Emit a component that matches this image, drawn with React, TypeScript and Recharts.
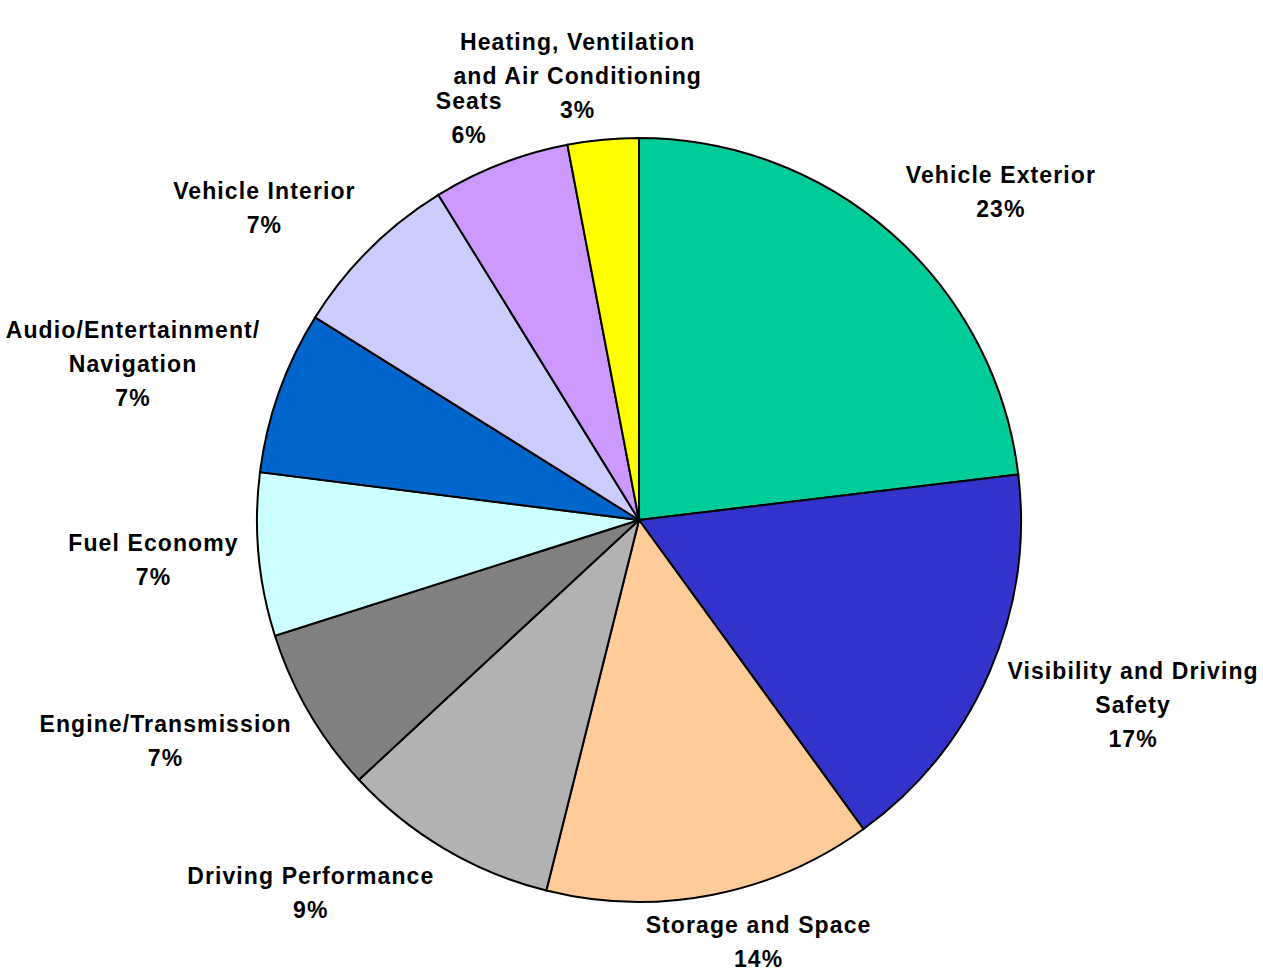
import React from 'react';
import { PieChart, Pie, Cell } from 'recharts';

const categories = [
  'Vehicle Exterior',
  'Visibility and Driving\nSafety',
  'Storage and Space',
  'Driving Performance',
  'Engine/Transmission',
  'Fuel Economy',
  'Audio/Entertainment/\nNavigation',
  'Vehicle Interior',
  'Seats',
  'Heating, Ventilation\nand Air Conditioning'
];

const shares = [23.1, 16.9, 13.9, 9.2, 7.0, 6.9, 6.9, 7.3, 5.8, 3.0];

const colors = [
  '#00CC99',
  '#3333CC',
  '#FFCC99',
  '#B2B2B2',
  '#808080',
  '#CCFFFF',
  '#0066CC',
  '#CCCCFF',
  '#CC99FF',
  '#FFFF00'
];

const data = categories.map((name, i) => ({ name, value: shares[i], color: colors[i] }));

const FONT_SIZE = 23;
const SPACING = 1.1;
const LINE_H = 34;
const FONT = `bold ${FONT_SIZE}px "Liberation Sans", Arial, sans-serif`;
const RADIAN = Math.PI / 180;

let ctx: CanvasRenderingContext2D | null = null;
const measure = (s: string) => {
  if (!ctx) ctx = document.createElement('canvas').getContext('2d');
  if (!ctx) return s.length * FONT_SIZE * 0.66;
  ctx.font = FONT;
  return ctx.measureText(s).width + SPACING * s.length;
};

const clamp = (v: number) => Math.max(-1, Math.min(1, v));

// label box is pushed outward so its inner edge/corner sits just off the rim
const renderLabel = (props: any) => {
  const { cx, cy, midAngle, outerRadius, name, percent, index } = props;
  const lines = [...String(name).split('\n'), `${Math.round(percent * 100)}%`];
  const w = Math.max(...lines.map(measure));
  const h = lines.length * LINE_H - 14;
  const dx = Math.cos(-midAngle * RADIAN);
  const dy = Math.sin(-midAngle * RADIAN);
  const r = outerRadius + 20;
  const x = cx + r * dx + (clamp(dx * 2) * w) / 2;
  const y = cy + r * dy + (clamp(dy * 1.4) * h) / 2;
  const top = y - ((lines.length - 1) * LINE_H) / 2;
  return (
    <text
      key={`lbl-${index}`}
      x={x}
      y={top}
      textAnchor="middle"
      fill="#000"
      style={{ font: FONT, letterSpacing: `${SPACING}px` }}
    >
      {lines.map((l, i) => (
        <tspan key={i} x={x} y={top + i * LINE_H} dominantBaseline="central">
          {l}
        </tspan>
      ))}
    </text>
  );
};

const App = () => {
  return (
    <div style={{ position: 'absolute', left: 0, top: 0, background: '#fff' }}>
      <PieChart width={1263} height={972} margin={{ top: 0, right: 0, bottom: 0, left: 0 }}>
        <Pie
          data={data}
          dataKey="value"
          nameKey="name"
          cx={639}
          cy={520}
          outerRadius={382}
          startAngle={90}
          endAngle={-270}
          stroke="#000"
          strokeWidth={2}
          label={renderLabel}
          labelLine={false}
          isAnimationActive={false}
        >
          {data.map((entry, index) => (
            <Cell key={`cell-${index}`} fill={entry.color} />
          ))}
        </Pie>
      </PieChart>
    </div>
  );
};

export default App;
